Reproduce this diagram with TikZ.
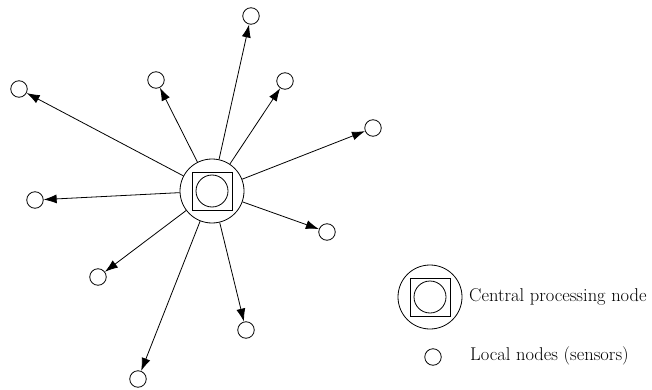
\documentclass[tikz,border=0pt]{standalone}
\usetikzlibrary{arrows.meta}
\begin{document}
\begin{tikzpicture}[x=1pt,y=-1pt,
  sensor/.style={draw,circle,inner sep=0pt,minimum size=16.5pt,line width=0.8pt},
  outerc/.style={draw,circle,inner sep=0pt,minimum size=64pt,line width=0.8pt},
  sq/.style={draw,inner sep=0pt,minimum width=40pt,minimum height=38pt,line width=0.8pt},
  innerc/.style={draw,circle,inner sep=0pt,minimum size=32pt,line width=0.8pt},
  arr/.style={line width=0.8pt,-{Latex[length=13pt,width=9pt]}},
  lbl/.style={anchor=west,inner sep=0pt,font=\fontsize{18.5}{22}\selectfont}]
\useasboundingbox (0,0) rectangle (652,390);
% central node
\node[outerc] (c) at (212,191) {};
\node[sq] (csq) at (c) {};
\node[innerc] (cin) at (c) {};
% sensors
\node[sensor] (s1) at (251,16) {};
\node[sensor] (s2) at (156,80) {};
\node[sensor] (s3) at (285,81) {};
\node[sensor] (s4) at (19,89) {};
\node[sensor] (s5) at (373,128) {};
\node[sensor] (s6) at (35,200) {};
\node[sensor] (s7) at (327,232) {};
\node[sensor] (s8) at (98,277) {};
\node[sensor] (s9) at (246,330) {};
\node[sensor] (s10) at (138,379) {};
\foreach \i in {1,...,10} {\draw[arr] (c) -- (s\i);}
% legend
\node[outerc] (lc) at (430,297) {};
\node[sq] (lsq) at (lc) {};
\node[innerc] (lin) at (lc) {};
\node[lbl] (lt1) at (469,297) {Central processing node};
\node[sensor] (ls) at (433,357) {};
\node[lbl] (lt2) at (470,356) {Local nodes (sensors)};
\end{tikzpicture}
\end{document}
